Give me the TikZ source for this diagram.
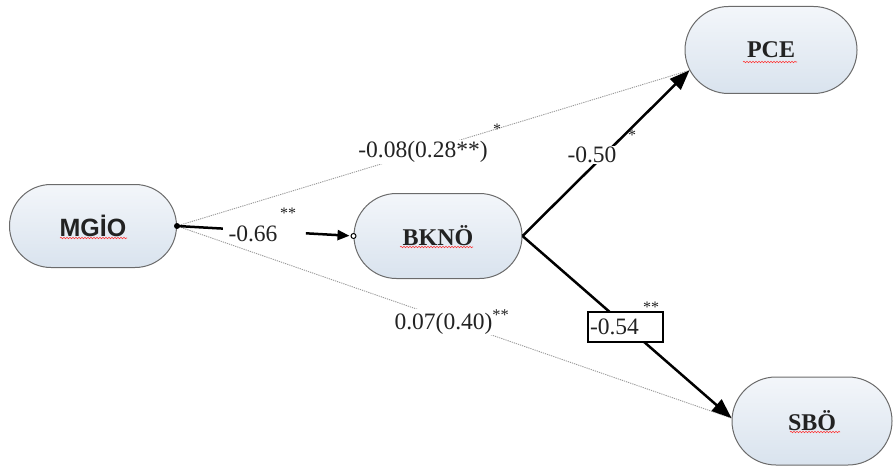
\documentclass[tikz,border=0pt]{standalone}
\usepackage{fontspec}
\setmainfont{Liberation Serif}
\newfontfamily\sansb{Liberation Sans}
\usetikzlibrary{shapes.misc,arrows.meta,decorations.pathmorphing}
\definecolor{nodetop}{HTML}{F3F6FA}
\definecolor{nodebot}{HTML}{D9E3EE}
\definecolor{nodeline}{HTML}{6B6B6B}
\definecolor{txt}{HTML}{222222}
\begin{document}
\begin{tikzpicture}[x=1pt,y=-1pt,
  var/.style={rounded rectangle, draw=nodeline, line width=1pt,
    top color=nodetop, bottom color=nodebot, text=txt,
    font=\fontsize{24}{26}\selectfont\bfseries, inner sep=0pt},
  coef/.style={fill=white, inner sep=1pt, font=\fontsize{23.5}{25}\selectfont, text=txt},
  star/.style={inner sep=0pt, font=\fontsize{16}{17}\selectfont, text=txt},
  strong/.style={line width=2.5pt, black},
  weak/.style={line width=0.9pt, gray!80, dash pattern=on 1.2pt off 1pt},
  bigtip/.style={-{Triangle[length=20pt,width=15pt]}},
  spell/.style={red!80, line width=0.6pt, decorate,
    decoration={snake, segment length=3pt, amplitude=0.7pt}}]
\useasboundingbox (0,0) rectangle (893,468);

% nodes
\node[var, minimum width=167pt, minimum height=83pt] (m) at (93,226) {\sansb\bfseries\fontsize{25}{27}\selectfont MGİO};
\node[var, minimum width=168pt, minimum height=85pt] (b) at (438,236) {BKNÖ};
\node[var, minimum width=172pt, minimum height=87pt] (p) at (771,50) {PCE};
\node[var, minimum width=160pt, minimum height=88pt] (s) at (812,421) {SBÖ};

% weak (dotted) paths
\draw[weak] (m.east) -- (p.194);
\draw[weak] (m.east) -- (s.178);

% strong paths from BKNÖ
\draw[strong, bigtip] (b.east) -- (p.194);
\draw[strong, bigtip] (b.east) -- (s.178);

% MGİO -> BKNÖ, broken by its label
\path (m.east) -- (b.west) coordinate[pos=0.26] (g1) coordinate[pos=0.73] (g2);
\draw[strong] (m.east) -- (g1);
\draw[strong, -{Triangle[length=12pt,width=10pt]}, shorten >=4pt] (g2) -- (b.west);
\fill[black] (m.east) circle[radius=3pt];
\draw[black, fill=white, line width=1pt] (b.west) circle[radius=2.5pt];

% coefficient labels
\node[coef] (l1) at (423,152) {-0.08(0.28**)};
\node[star] (st1) at (497,129) {*};
\node[coef] (l2) at (592,155) {-0.50};
\node[star] (st2) at (632,135) {*};
\node[coef, fill=none] (l3) at (253,234) {-0.66};
\node[star] (st3) at (288,213) {**};
\node[coef] (l4) at (452,322) {0.07(0.40)\textsuperscript{**}};
\node[coef, draw=black, line width=2pt, minimum width=75pt, minimum height=30pt,
  text width=70pt, align=left, inner sep=2pt] (l5) at (625,327) {-0.54};
\node[star] (st5) at (651,307) {**};

% spell-check underlines
\draw[spell] (60,238) -- (127,238);
\draw[spell] (400,247) -- (473,247);
\draw[spell] (743,62) -- (797,62);
\draw[spell] (790,432) -- (840,432);
\end{tikzpicture}
\end{document}
